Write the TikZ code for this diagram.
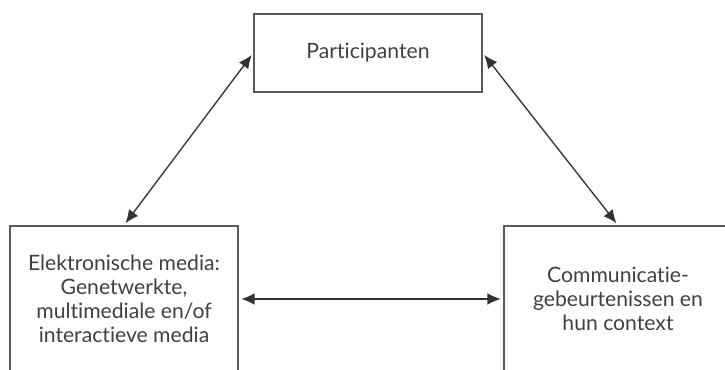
\documentclass[tikz,border=0pt]{standalone}
\usepackage{fontspec}
\setmainfont{Lato}[Ligatures={NoCommon,NoContextual}]
\usetikzlibrary{arrows.meta,positioning}
\definecolor{boxgray}{HTML}{5A5A5A}
\definecolor{textgray}{HTML}{404040}
\definecolor{arrowgray}{HTML}{333333}
\tikzset{%
	block/.style    = {draw=boxgray, line width=0.9pt, rectangle, minimum width=136.8pt, align=center, text=textgray, font=\fontsize{12.7}{14.4}\selectfont}, % Box
	link/.style     = {draw=arrowgray, line width=0.8pt, {Latex[length=8pt,width=7pt]}-{Latex[length=8pt,width=7pt]}, shorten <=1.5pt, shorten >=1.5pt}, % Two-way arrow
}

\begin{document}
\begin{tikzpicture}[x=0.6pt,y=-0.6pt]
	\useasboundingbox (0,0) rectangle (725,370);
	\node [block, minimum height=46.8pt] (part) at (368,53) {Participanten};
	\node [block, minimum height=87.6pt] (media) at (124,299) {Elektronische media:\\Genetwerkte,\\multimediale en/of\\interactieve media};
	\node [block, minimum height=87.6pt] (events) at (618,299) {Communicatie-\\gebeurtenissen en\\hun context};
	
	\draw[link] (media.north) -- (part.west);
	\draw[link] (part.east) -- (events.north);
	\draw[link] (media.east) -- (events.west);
\end{tikzpicture}
\end{document}
